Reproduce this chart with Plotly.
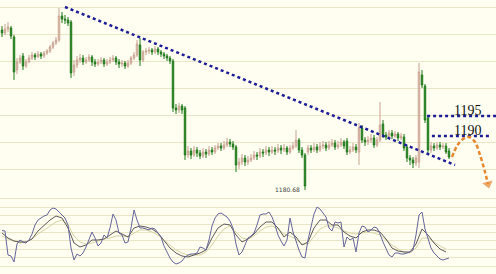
import plotly.graph_objects as go

# ---------------- data ----------------
opens = [1216.5,1215.75,1216.75,1217.0,1214.75,1206.5,1208.5,1210.0,1207.5,1208.5,
 1209.5,1210.25,1209.75,1210.5,1210.0,1210.75,1211.25,1212.25,1213.25,1214.0,
 1220.0,1219.25,1219.0,1218.5,1206.0,1207.75,1209.0,1209.5,1208.5,1209.0,
 1209.75,1208.5,1208.0,1208.5,1209.0,1208.0,1208.5,1209.0,1209.5,1208.5,
 1208.0,1208.25,1207.5,1208.25,1209.5,1210.25,1212.75,1209.0,1211.0,1211.25,
 1211.5,1211.0,1211.75,1211.0,1210.5,1210.0,1209.5,1208.75,1197.0,1196.5,
 1197.5,1197.0,1185.25,1186.25,1185.25,1186.5,1185.75,1185.0,1186.0,1185.5,
 1186.5,1186.0,1187.0,1187.5,1187.0,1187.75,1188.5,1188.0,1187.25,1182.75,
 1183.5,1184.5,1183.5,1184.0,1184.5,1185.25,1185.0,1186.0,1185.75,1186.5,
 1186.0,1186.5,1186.25,1187.0,1186.5,1187.0,1186.0,1187.0,1187.5,1189.0,
 1186.5,1185.25,1186.0,1187.0,1186.5,1187.25,1186.5,1187.5,1187.75,1187.0,
 1187.75,1188.25,1187.25,1187.75,1188.5,1188.75,1186.0,1186.5,1187.25,1186.0,
 1192.0,1189.0,1188.5,1189.0,1189.5,1187.75,1189.0,1193.0,1190.25,1189.75,
 1190.75,1190.0,1190.5,1189.5,1189.75,1187.25,1184.5,1184.0,1183.25,1183.5,
 1205.25,1202.5,1194.5,1186.5,1187.5,1187.0,1187.75,1187.25,1187.5,1186.25]
closes = [1215.75,1216.75,1217.25,1215.0,1206.0,1208.5,1209.5,1207.5,1208.5,1209.5,
 1210.25,1209.75,1210.5,1210.0,1210.75,1211.25,1212.25,1213.25,1214.0,1220.0,
 1219.25,1219.0,1218.25,1205.75,1207.75,1209.0,1209.5,1208.5,1209.0,1209.75,
 1208.5,1208.0,1208.5,1209.0,1208.0,1208.5,1209.0,1209.5,1208.5,1208.0,
 1208.25,1207.5,1208.25,1209.5,1210.25,1213.0,1209.0,1211.0,1211.25,1211.5,
 1211.0,1211.75,1211.0,1210.5,1210.0,1209.5,1208.75,1197.0,1196.5,1197.5,
 1196.5,1185.25,1186.25,1185.25,1186.5,1185.75,1185.0,1186.0,1185.5,1186.5,
 1186.0,1187.0,1187.5,1187.0,1187.75,1188.5,1188.0,1187.25,1182.75,1183.5,
 1184.5,1183.5,1184.0,1184.5,1185.25,1185.0,1186.0,1185.75,1186.5,1186.0,
 1186.5,1186.25,1187.0,1186.5,1187.0,1186.0,1187.0,1187.5,1189.0,1186.5,
 1185.25,1177.5,1187.0,1186.5,1187.25,1186.5,1187.5,1187.75,1187.0,1187.75,
 1188.25,1187.25,1187.75,1188.5,1187.5,1186.0,1186.5,1187.25,1186.5,1192.0,
 1189.0,1188.5,1189.0,1189.5,1187.75,1189.0,1192.75,1190.25,1189.75,1190.75,
 1190.0,1190.5,1189.5,1190.0,1187.0,1184.5,1184.0,1183.25,1184.5,1206.0,
 1202.75,1194.0,1186.5,1187.5,1187.0,1187.75,1187.25,1187.5,1186.0,1184.75]
highs = [1217.5,1218.0,1218.5,1217.5,1215.25,1209.5,1210.25,1210.75,1209.25,1210.25,
 1211.0,1210.75,1211.25,1211.0,1211.25,1211.75,1212.75,1213.75,1214.75,1222.0,
 1221.0,1220.25,1219.75,1219.0,1209.0,1210.0,1210.5,1210.25,1209.75,1210.5,
 1210.25,1209.25,1209.25,1209.75,1209.5,1209.25,1209.75,1210.25,1210.0,1209.25,
 1209.0,1208.75,1209.0,1210.0,1211.0,1214.0,1214.5,1211.5,1212.0,1212.25,
 1212.0,1212.5,1212.25,1211.5,1211.0,1210.5,1210.0,1209.25,1198.0,1198.25,
 1198.0,1197.5,1187.5,1187.0,1187.5,1187.25,1186.5,1187.0,1186.75,1187.5,
 1187.25,1187.75,1188.25,1188.25,1188.75,1189.5,1189.25,1188.75,1187.75,1184.5,
 1185.5,1185.25,1185.0,1185.5,1186.25,1186.0,1187.0,1186.75,1187.5,1187.25,
 1187.5,1187.25,1188.0,1187.75,1188.0,1187.5,1187.75,1188.5,1191.5,1189.5,
 1187.25,1185.75,1187.75,1187.75,1188.25,1188.0,1188.5,1188.75,1188.5,1188.75,
 1189.25,1189.0,1188.75,1189.5,1189.0,1189.5,1187.5,1188.25,1188.0,1193.25,
 1192.75,1189.75,1190.0,1190.5,1190.25,1189.75,1198.5,1194.0,1191.0,1191.5,
 1191.5,1191.25,1191.0,1190.75,1190.5,1187.75,1185.25,1184.75,1185.25,1208.25,
 1206.5,1203.0,1195.0,1188.5,1188.25,1188.5,1188.5,1188.25,1188.25,1187.0]
lows = [1214.75,1215.25,1216.0,1214.25,1204.0,1205.5,1208.0,1206.5,1207.0,1208.25,
 1209.0,1209.0,1209.5,1209.25,1209.5,1210.25,1210.75,1211.75,1212.75,1213.5,
 1218.25,1218.0,1217.5,1204.5,1205.0,1207.0,1208.25,1207.75,1208.0,1208.5,
 1207.5,1207.25,1207.5,1208.0,1207.25,1207.5,1208.0,1208.5,1207.75,1207.0,
 1207.25,1206.75,1207.0,1207.75,1209.0,1209.75,1207.5,1208.5,1210.25,1210.5,
 1210.25,1210.5,1210.25,1209.75,1209.25,1208.75,1208.0,1196.0,1195.5,1195.75,
 1195.5,1184.0,1184.5,1184.25,1184.75,1184.75,1184.25,1184.5,1184.5,1185.0,
 1185.25,1185.5,1186.5,1186.25,1186.5,1187.25,1187.25,1186.5,1181.0,1181.75,
 1182.75,1182.5,1182.75,1183.5,1184.0,1184.0,1184.5,1184.75,1185.25,1185.0,
 1185.5,1185.25,1185.75,1185.5,1186.0,1185.25,1185.5,1186.5,1187.0,1185.75,
 1184.5,1176.5,1185.25,1185.75,1186.0,1185.75,1186.0,1186.75,1186.25,1186.5,
 1187.25,1186.5,1186.75,1187.25,1186.75,1185.25,1185.5,1186.0,1185.75,1182.75,
 1188.25,1187.5,1187.75,1188.25,1187.0,1187.25,1188.5,1189.5,1189.0,1189.25,
 1189.25,1189.5,1188.75,1189.0,1186.25,1183.5,1182.75,1182.0,1182.5,1182.0,
 1202.0,1193.25,1185.5,1185.75,1186.25,1186.5,1186.5,1186.75,1185.5,1184.25]

# oscillator (lower panel), fast line one value per candle
osc_fast = [56.8,56,17.6,16,6.4,35.2,41.6,38.4,36.8,41.6,
 51.2,65.6,73.6,76.8,80,81.6,89.6,92.8,91.2,86.4,
 81.6,76.8,65.6,28.8,9.6,19.2,16,20.8,30.4,41.6,
 54.4,44.8,32,36.8,49.6,44.8,60.8,83.2,73.6,52.8,
 49.6,36.8,38.4,60.8,89.6,73.6,60.8,60.8,59.2,57.6,
 60.8,59.2,52.8,46.4,32,22.4,12.8,6.4,3.2,4.8,
 8,14.4,17.6,19.2,19.2,20.8,30.4,28.8,25.6,41.6,
 64,76.8,83.2,84.8,81.6,78.4,72,60.8,35.2,17.6,
 22.4,35.2,44.8,48,52.8,65.6,81.6,83.2,83.2,86.4,
 78.4,65.6,49.6,40,32,41.6,76.8,54.4,38.4,25.6,
 14.4,12.8,41.6,64,83.2,94.4,91.2,84.8,78.4,60.8,
 56,70.4,68.8,70.4,30.4,46.4,41.6,44.8,22.4,52.8,
 64,62.4,54.4,57.6,62.4,60.8,51.2,38.4,28.8,17.6,
 14.4,20.8,20.8,19.2,19.2,20.8,22.4,25.6,49.6,81.6,
 86.4,59.2,44.8,28.8,20.8,16,11.2,9.6,11.2,12.8]
# medium and slow lines, one value every second candle
osc_mid = [52.8,44.8,40,38.4,38.4,43.2,56,65.6,73.6,80,
 76.8,60.8,36.8,30.4,33.6,41.6,41.6,43.2,49.6,56,
 51.2,46.4,60.8,64,62.4,59.2,52.8,41.6,28.8,20.8,
 16,14.4,17.6,20.8,25.6,44.8,60.8,67.2,65.6,49.6,
 38.4,43.2,51.2,62.4,70.4,70.4,60.8,46.4,54.4,46.4,
 33.6,38.4,60.8,73.6,73.6,65.6,65.6,54.4,48,44.8,
 54.4,57.6,57.6,54.4,43.2,28.8,24,22.4,22.4,35.2,
 59.2,49.6,36.8,27.2,22.4]
osc_slow = [48,43.2,40,36.8,38.4,43.2,51.2,57.6,64,70.4,
 73.6,65.6,48,38.4,35.2,36.8,40,43.2,44.8,48,
 48,46.4,52.8,57.6,57.6,54.4,49.6,41.6,33.6,25.6,
 20.8,17.6,17.6,17.6,22.4,33.6,48,59.2,64,54.4,
 44.8,43.2,48,56,62.4,64,59.2,51.2,48,43.2,
 35.2,35.2,48,59.2,64,64,60.8,56,52.8,51.2,
 52.8,54.4,52.8,49.6,41.6,33.6,27.2,22.4,20.8,28.8,
 44.8,44.8,38.4,32,27.2]

# trend line (candle index, price) and key levels
trend_x = [21, 151]
trend_y = [1222.25, 1182.75]
levels = [1195, 1190]
level_labels = ["1195", "1190"]
level_start = [141.7, 143.3]
level_end = [164.7, 162.7]
low_label = "1180.68"
low_index = 101
low_price = 1176.5
# projected path (orange arrow)
proj_x = [150, 151.67, 153.67, 155.67, 157.67, 159.33, 161, 162]
proj_y = [1184.75, 1187.5, 1189.25, 1189.75, 1188.5, 1185.25, 1181, 1178]

# ---------------- figure ----------------
idx = list(range(len(opens)))
idx2 = idx[::2]
bg = "#FFFEF0"
grid = "#E9E5C6"
navy = "#1C1C96"
orange = "#E8862E"

fig = go.Figure()
fig.add_trace(go.Candlestick(
    x=idx, open=opens, high=highs, low=lows, close=closes,
    increasing=dict(line=dict(color="#C9A292", width=1), fillcolor="#EFD9CB"),
    decreasing=dict(line=dict(color="#217A1C", width=1), fillcolor="#2E8C24"),
    whiskerwidth=0, xaxis="x", yaxis="y", hoverinfo="skip"))

fig.add_trace(go.Scatter(x=trend_x, y=trend_y, mode="lines",
    line=dict(color=navy, width=2.5, dash="dot"), xaxis="x", yaxis="y"))
for lv, xs, xe in zip(levels, level_start, level_end):
    fig.add_trace(go.Scatter(x=[xs, xe], y=[lv, lv], mode="lines",
        line=dict(color=navy, width=2.5, dash="dot"), xaxis="x", yaxis="y"))

fig.add_trace(go.Scatter(x=proj_x, y=proj_y, mode="lines+markers",
    line=dict(color=orange, width=2.5, dash="4px,2.5px", shape="spline"),
    marker=dict(symbol="triangle-up", size=[0]*(len(proj_x)-1)+[11],
                color=orange, angleref="previous"),
    xaxis="x", yaxis="y"))

# oscillator
fig.add_trace(go.Scatter(x=idx2, y=osc_slow, mode="lines",
    line=dict(color="#D6D3A2", width=1), xaxis="x2", yaxis="y2"))
fig.add_trace(go.Scatter(x=idx2, y=osc_mid, mode="lines",
    line=dict(color="#5E5858", width=1), xaxis="x2", yaxis="y2"))
fig.add_trace(go.Scatter(x=idx, y=osc_fast, mode="lines",
    line=dict(color="#65659A", width=1), xaxis="x2", yaxis="y2"))

ann = []
for lv, lab in zip(levels, level_labels):
    ann.append(dict(x=155.3, y=lv + 1.3, xref="x", yref="y", text=lab,
        showarrow=False, font=dict(family="Liberation Serif", size=14, color="#111111")))
ann.append(dict(x=low_index - 1.0, y=low_price + 0.1, xref="x", yref="y", text=low_label,
    showarrow=False, xanchor="right",
    font=dict(family="DejaVu Sans", size=6, color="#444444")))

xr = [-0.667, 164.667]
split = 78 / 274
fig.update_layout(
    width=496, height=274, margin=dict(l=0, r=0, t=0, b=0),
    paper_bgcolor=bg, plot_bgcolor=bg, showlegend=False,
    annotations=ann,
    xaxis=dict(domain=[0, 1], range=xr, anchor="y", showgrid=False, zeroline=False,
               showticklabels=False, rangeslider=dict(visible=False), fixedrange=True),
    yaxis=dict(domain=[split, 1], range=[1175, 1224], tick0=1175, dtick=6.75,
               showgrid=True, gridcolor=grid, gridwidth=1, zeroline=False,
               showticklabels=False),
    xaxis2=dict(domain=[0, 1], range=xr, anchor="y2", showgrid=False, zeroline=False,
                showticklabels=False),
    yaxis2=dict(domain=[0, split], range=[-12.8, 112], tick0=0, dtick=13.44,
                showgrid=True, gridcolor=grid, gridwidth=1, zeroline=False,
                showticklabels=False),
)

fig.write_html("out.html")
